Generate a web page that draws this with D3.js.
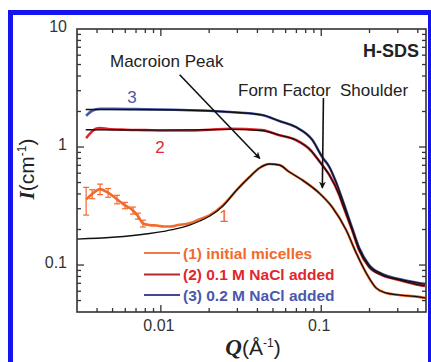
<!DOCTYPE html>
<html><head><meta charset="utf-8">
<script src="https://cdn.jsdelivr.net/npm/d3@7/dist/d3.min.js"></script>
<style>
html,body{margin:0;padding:0;background:#fff;}
svg{display:block;font-family:Arial,"Liberation Sans",sans-serif;}
</style></head>
<body><svg id="c" width="431" height="362"></svg>
<script>
// ---- data ----
// (1) initial micelles (orange data)
const q1 = [0.00342,0.00373,0.00418,0.00469,0.00533,0.00598,0.0067,0.0072,0.00773,0.00855,0.00944,0.0104,0.0114,0.0128,0.0151,0.0175,0.0202,0.0243,0.0297,0.0357,0.0412,0.0475,0.0548,0.0633,0.0762,0.0972,0.117,0.143,0.165,0.1903,0.2196,0.2533,0.3051,0.4061,0.443];
const i1 = [0.36,0.40,0.44,0.41,0.36,0.32,0.29,0.26,0.225,0.218,0.216,0.212,0.212,0.218,0.226,0.245,0.265,0.32,0.432,0.557,0.664,0.718,0.704,0.614,0.525,0.407,0.31,0.198,0.127,0.086,0.064,0.058,0.0558,0.0537,0.0527];
const e1 = [0.095,0.035,0.045,0.035,0.03,0.02,0.02,0.015,0.015,0,0,0,0,0,0,0,0,0,0,0,0,0,0,0,0,0,0,0,0,0,0,0,0,0,0];
// fit for (1)
const qf1 = [0.003,0.005,0.0067,0.0085,0.0104,0.0128,0.0151,0.0175,0.0202,0.0243,0.0297,0.0357,0.0412,0.0475,0.0548,0.0633,0.0762,0.0972,0.117,0.143,0.165,0.1903,0.2196,0.2533,0.3051,0.4061,0.45];
const if1 = [0.166,0.172,0.178,0.185,0.193,0.204,0.218,0.236,0.26,0.315,0.432,0.557,0.664,0.718,0.704,0.614,0.525,0.407,0.31,0.198,0.127,0.086,0.064,0.058,0.0558,0.0537,0.0525];
// (2) 0.1 M NaCl added (red)
const q2 = [0.00342,0.0036,0.0039,0.00418,0.0047,0.006,0.008,0.0104,0.015,0.02,0.0269,0.0426,0.0548,0.0692,0.0871,0.0929,0.1014,0.1124,0.1295,0.135,0.1558,0.1722,0.1987,0.2393,0.3051,0.4061,0.443];
const i2 = [1.19,1.29,1.42,1.45,1.42,1.40,1.39,1.38,1.38,1.40,1.43,1.39,1.26,1.15,0.92,0.823,0.704,0.579,0.392,0.335,0.198,0.134,0.0965,0.0821,0.0748,0.0678,0.0665];
const qf2 = [0.0034,0.01,0.02,0.0269,0.0426,0.0548,0.0692,0.0871,0.0929,0.1014,0.1124,0.1295,0.135,0.1558,0.1722,0.1987,0.2393,0.3051,0.4061,0.443];
const if2 = [1.40,1.39,1.40,1.41,1.38,1.26,1.15,0.92,0.823,0.704,0.579,0.392,0.335,0.198,0.134,0.0965,0.0821,0.0748,0.0678,0.0665];
// (3) 0.2 M NaCl added (blue)
const q3 = [0.00342,0.00373,0.00418,0.005,0.008,0.012,0.0175,0.0269,0.0426,0.0548,0.0692,0.0879,0.1014,0.1124,0.1222,0.135,0.1558,0.1722,0.1987,0.2393,0.3051,0.4061,0.443];
const i3 = [1.84,2.03,2.11,2.11,2.09,2.07,2.04,1.98,1.87,1.66,1.48,1.15,0.823,0.677,0.525,0.363,0.206,0.140,0.100,0.084,0.076,0.0704,0.0688];
const qf3 = [0.0034,0.01,0.0175,0.0269,0.0426,0.0548,0.0692,0.0879,0.1014,0.1124,0.1222,0.135,0.1558,0.1722,0.1987,0.2393,0.3051,0.4061,0.443];
const if3 = [2.08,2.07,2.04,1.98,1.87,1.66,1.48,1.15,0.823,0.677,0.525,0.363,0.206,0.140,0.100,0.084,0.076,0.0704,0.0688];

const xTicks = [0.01, 0.1];
const xTickLabels = ["0.01", "0.1"];
const yTicks = [0.1, 1, 10];
const yTickLabels = ["0.1", "1", "10"];
const legendLabels = ["(1) initial micelles", "(2) 0.1 M NaCl added", "(3) 0.2 M NaCl added"];
const curveLabels = ["1", "2", "3"];

// ---- drawing ----
const svg = d3.select("#c");
const L = 77, R = 426, T = 29, B = 312;
const x = d3.scaleLog().domain([0.003, 0.45]).range([L, R]);
const y = d3.scaleLog().domain([0.04, 10]).range([B, T]);

const cOrange = "#f26a2c", cRed = "#e2262e", cBlue = "#4a58ac", cAxis = "#333";

// frame border
svg.append("rect").attr("x", 10.5).attr("y", 12.5).attr("width", 420).attr("height", 420)
  .attr("fill", "none").attr("stroke", "#1414f0").attr("stroke-width", 5);

const zip = (a, b) => a.map((v, k) => [v, b[k]]);
const line = d3.line().x(d => x(d[0])).y(d => y(d[1])).curve(d3.curveMonotoneX);

const g = svg.append("g");
// data curves
g.append("path").datum(zip(q3, i3)).attr("d", line).attr("fill", "none").attr("stroke", cBlue).attr("stroke-width", 2.6);
g.append("path").datum(zip(q2, i2)).attr("d", line).attr("fill", "none").attr("stroke", cRed).attr("stroke-width", 2.6);
g.append("path").datum(zip(q1, i1)).attr("d", line).attr("fill", "none").attr("stroke", cOrange).attr("stroke-width", 2.6);
// error bars
const eb = q1.map((q, k) => ({q, v: i1[k], e: e1[k]})).filter(d => d.e > 0);
const ebg = g.append("g").attr("stroke", cOrange).attr("stroke-width", 1.2);
ebg.selectAll("line.v").data(eb).join("line").attr("class", "v")
  .attr("x1", d => x(d.q)).attr("x2", d => x(d.q))
  .attr("y1", d => y(d.v + d.e)).attr("y2", d => y(d.v - d.e));
ebg.selectAll("line.t").data(eb).join("line").attr("class", "t")
  .attr("x1", d => x(d.q) - 3).attr("x2", d => x(d.q) + 3)
  .attr("y1", d => y(d.v + d.e)).attr("y2", d => y(d.v + d.e));
ebg.selectAll("line.b").data(eb).join("line").attr("class", "b")
  .attr("x1", d => x(d.q) - 3).attr("x2", d => x(d.q) + 3)
  .attr("y1", d => y(d.v - d.e)).attr("y2", d => y(d.v - d.e));
// fits
[[qf3, if3], [qf2, if2], [qf1, if1]].forEach(([a, b]) => {
  g.append("path").datum(zip(a, b)).attr("d", line).attr("fill", "none").attr("stroke", "#111").attr("stroke-width", 1.3);
});

// axes frame
svg.append("rect").attr("x", L).attr("y", T).attr("width", R - L).attr("height", B - T)
  .attr("fill", "none").attr("stroke", cAxis).attr("stroke-width", 1.6);

// ticks
const xMinor = x.ticks().filter(v => v > 0.003 && v < 0.45);
const yMinor = y.ticks().filter(v => v > 0.04 && v < 10);
const isMajor = v => Math.abs(Math.log10(v) - Math.round(Math.log10(v))) < 1e-6;
const tk = svg.append("g").attr("stroke", cAxis).attr("stroke-width", 1.3);
xMinor.forEach(v => {
  const len = isMajor(v) ? 7 : 4;
  tk.append("line").attr("x1", x(v)).attr("x2", x(v)).attr("y1", B).attr("y2", B - len);
  tk.append("line").attr("x1", x(v)).attr("x2", x(v)).attr("y1", T).attr("y2", T + len);
});
yMinor.forEach(v => {
  const len = isMajor(v) ? 7 : 4;
  tk.append("line").attr("y1", y(v)).attr("y2", y(v)).attr("x1", L).attr("x2", L + len);
  tk.append("line").attr("y1", y(v)).attr("y2", y(v)).attr("x1", R).attr("x2", R - len);
});

// tick labels
svg.append("g").selectAll("text").data(xTicks).join("text")
  .attr("x", d => x(d) - 2).attr("y", 331).attr("text-anchor", "middle")
  .attr("font-size", 16).attr("fill", cAxis).text((d, k) => xTickLabels[k]);
svg.append("g").selectAll("text").data(yTicks).join("text")
  .attr("x", 67).attr("y", d => y(d) + 3).attr("text-anchor", "end")
  .attr("font-size", 16).attr("fill", cAxis).text((d, k) => yTickLabels[k]);

// axis titles
const yt = svg.append("text").attr("transform", "translate(34,169) rotate(-90)")
  .attr("text-anchor", "middle").attr("font-size", 21).attr("fill", "#222");
yt.append("tspan").attr("font-family", "Liberation Serif, serif").attr("font-style", "italic").attr("font-weight", "bold").text("I");
yt.append("tspan").text("(cm");
yt.append("tspan").attr("font-size", 12).attr("dy", -8).text("-1");
yt.append("tspan").attr("dy", 8).text(")");

const xt = svg.append("text").attr("x", 253).attr("y", 355)
  .attr("text-anchor", "middle").attr("font-size", 21).attr("fill", "#222");
xt.append("tspan").attr("font-family", "Liberation Serif, serif").attr("font-style", "italic").attr("font-weight", "bold").attr("font-size", 23).text("Q");
xt.append("tspan").text("(Å");
xt.append("tspan").attr("font-size", 12).attr("dy", -8).text("-1");
xt.append("tspan").attr("dy", 8).text(")");

// annotations
svg.append("defs").append("marker").attr("id", "ah").attr("viewBox", "0 0 10 10")
  .attr("refX", 9).attr("refY", 5).attr("markerWidth", 7).attr("markerHeight", 7)
  .attr("markerUnits", "userSpaceOnUse").attr("orient", "auto")
  .append("path").attr("d", "M0,0 L10,5 L0,10 L3,5 Z").attr("fill", "#111");
const arrows = [[[0.0131, 4.1], [0.0414, 0.80]], [[0.1032, 2.6], [0.1016, 0.45]]];
arrows.forEach(([a, b]) => {
  svg.append("line").attr("x1", x(a[0])).attr("y1", y(a[1])).attr("x2", x(b[0])).attr("y2", y(b[1]))
    .attr("stroke", "#111").attr("stroke-width", 1.6).attr("marker-end", "url(#ah)");
});
svg.append("text").attr("x", 110).attr("y", 67).attr("font-size", 17).attr("fill", "#222").text("Macroion Peak");
svg.append("text").attr("x", 238).attr("y", 96).attr("font-size", 17).attr("fill", "#222")
  .attr("xml:space", "preserve").style("white-space", "pre").text("Form Factor  Shoulder");
svg.append("text").attr("x", 419).attr("y", 57).attr("text-anchor", "end").attr("font-size", 18)
  .attr("font-weight", "bold").attr("fill", "#222").text("H-SDS");

// curve labels
const clPos = [[224, 222], [160, 153], [132, 103]];
const clCol = [cOrange, cRed, cBlue];
curveLabels.forEach((t, k) => {
  svg.append("text").attr("x", clPos[k][0]).attr("y", clPos[k][1]).attr("text-anchor", "middle")
    .attr("font-size", 17).attr("fill", clCol[k]).text(t);
});

// legend
const lgY = [253, 274.5, 295];
const lgLine = ["#f07a45", "#b2282e", "#3c4a98"];
legendLabels.forEach((t, k) => {
  svg.append("line").attr("x1", 144).attr("x2", 180).attr("y1", lgY[k]).attr("y2", lgY[k])
    .attr("stroke", lgLine[k]).attr("stroke-width", 1.8);
  svg.append("text").attr("x", 183).attr("y", lgY[k] + 5.5).attr("font-size", 15.5)
    .attr("font-weight", "bold").attr("fill", clCol[k]).text(t);
});
</script></body></html>
